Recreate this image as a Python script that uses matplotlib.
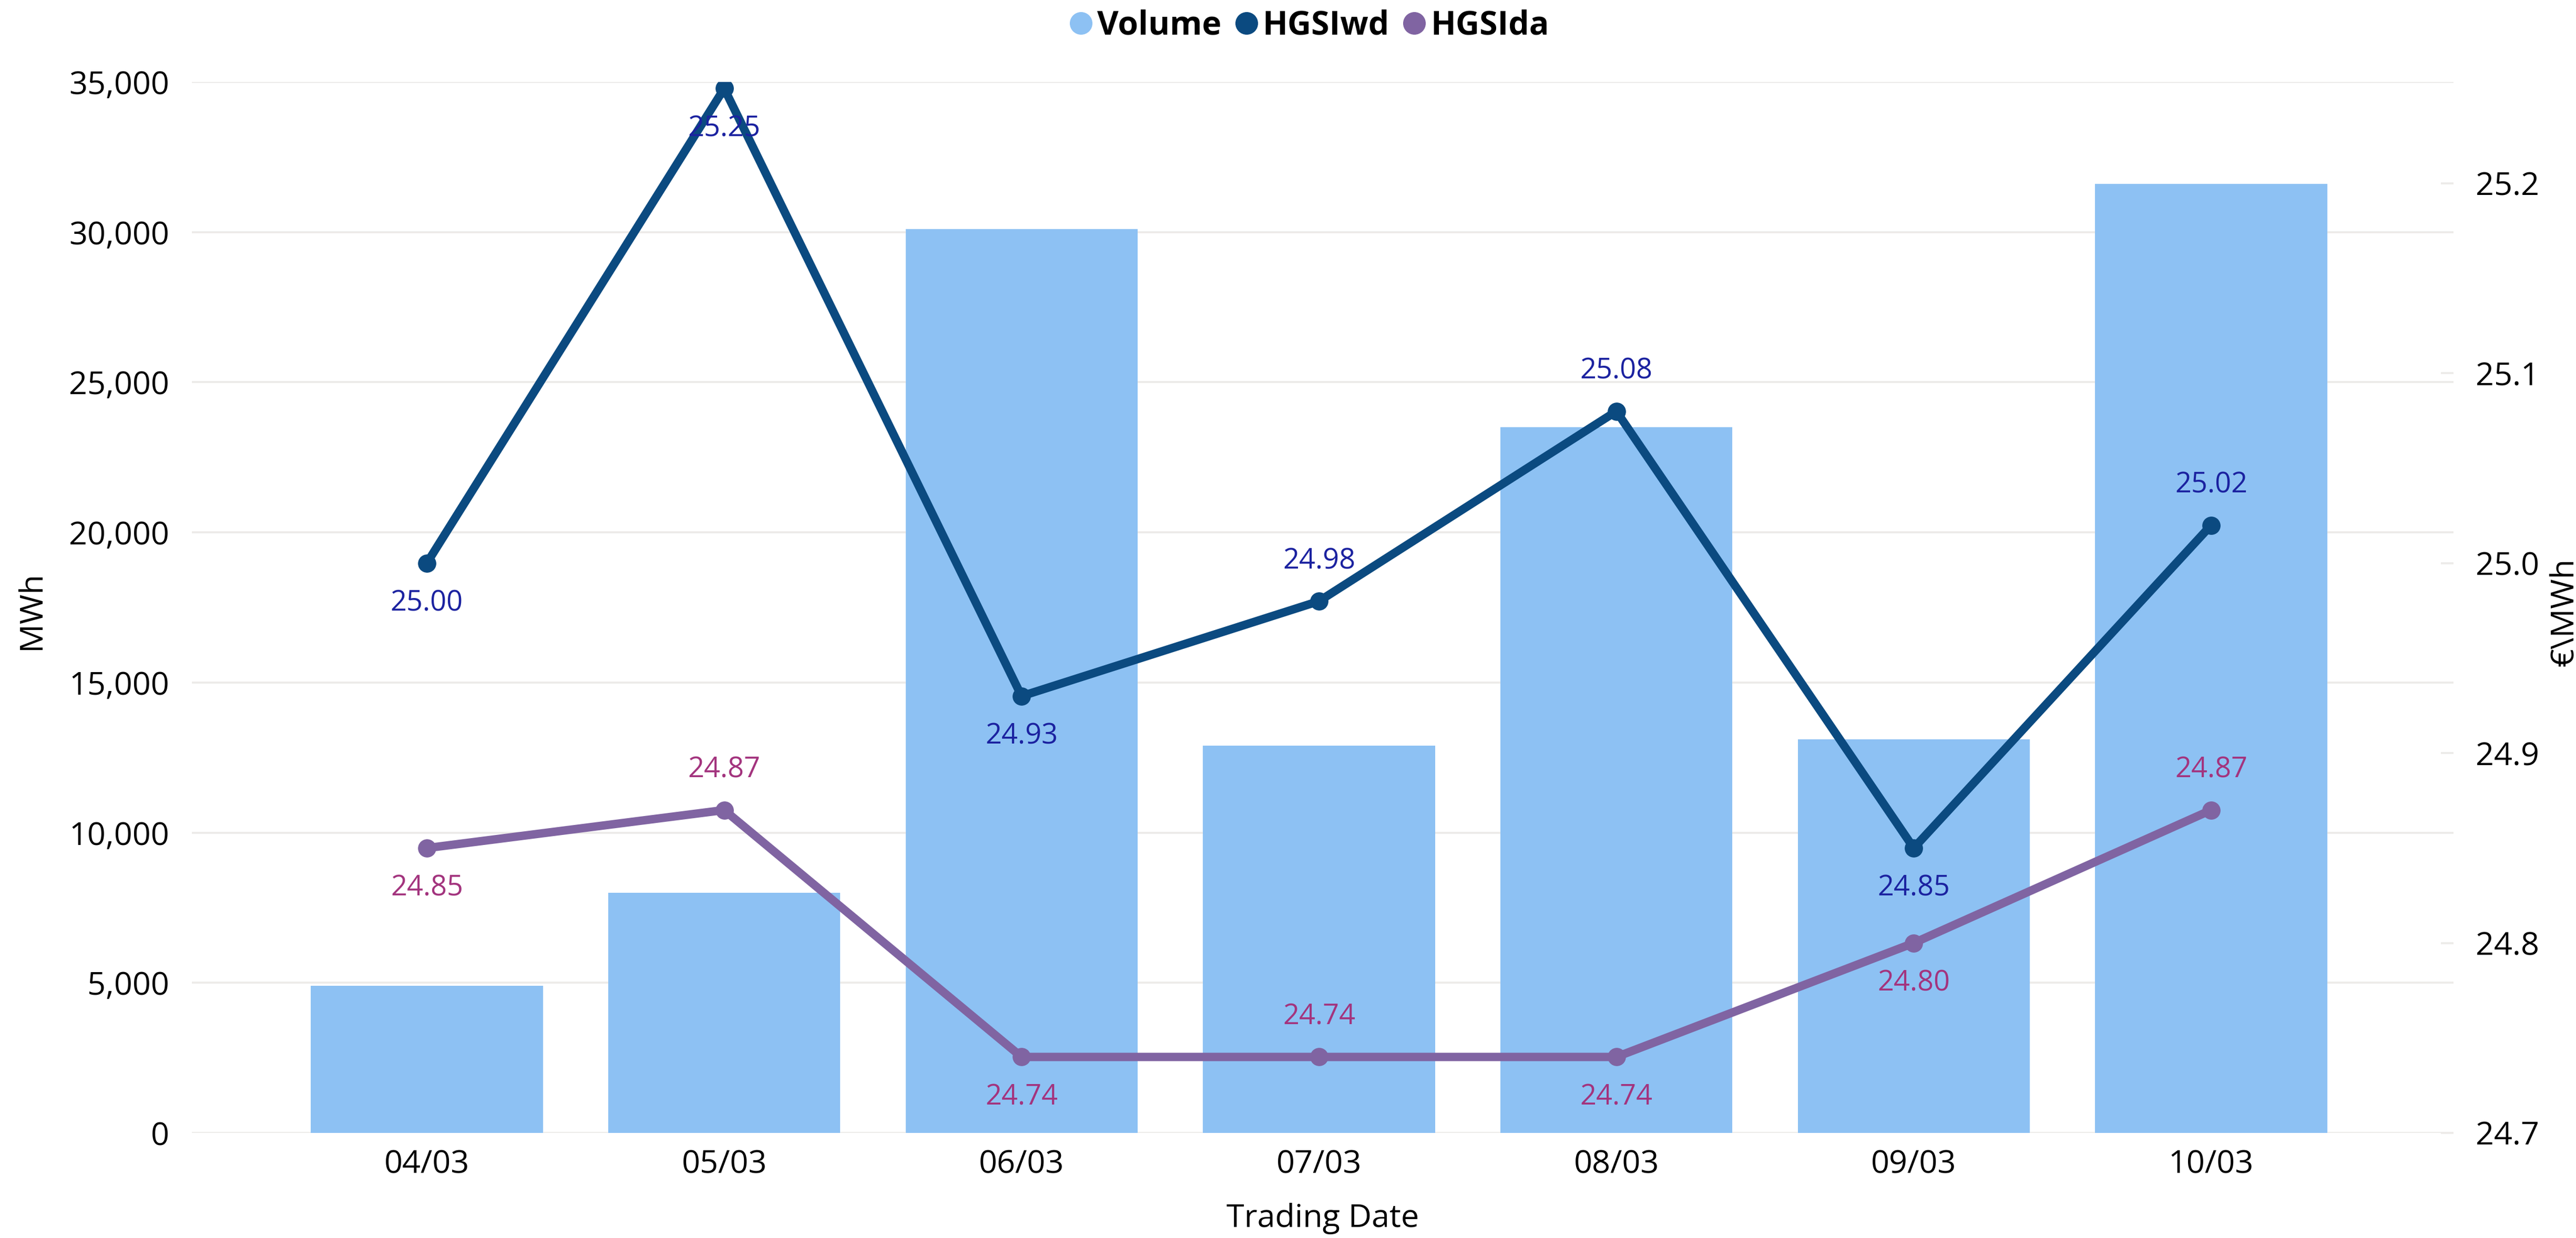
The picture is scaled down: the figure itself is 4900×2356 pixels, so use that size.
import matplotlib
matplotlib.use("Agg")
import matplotlib.pyplot as plt
from matplotlib.lines import Line2D
from matplotlib.ticker import FuncFormatter

plt.rcParams['font.family'] = ['Open Sans', 'DejaVu Sans']

# Données
dates = ["04/03", "05/03", "06/03", "07/03", "08/03", "09/03", "10/03"]
volume = [4900, 8000, 30100, 12900, 23500, 13100, 31600]
hgsiwd = [25.00, 25.25, 24.93, 24.98, 25.08, 24.85, 25.02]
hgsida = [24.85, 24.87, 24.74, 24.74, 24.74, 24.80, 24.87]
# position des étiquettes : 1 = au-dessus, -1 = en dessous
pos_wd = [-1, -1, -1, 1, 1, -1, 1]
pos_da = [-1, 1, -1, 1, -1, -1, 1]

c_bar = '#8DC1F3'
c_wd = '#0B4A80'
c_da = '#8064A2'
c_wd_lab = '#1B22A0'
c_da_lab = '#A3347E'
c_grid = '#EDEBE9'

W, H = 4900, 2356
fig = plt.figure(figsize=(W / 100, H / 100), dpi=100)
ax = fig.add_axes([365 / W, 200 / H, (4667 - 365) / W, 2000 / H])

x = list(range(len(dates)))
ax.bar(x, volume, width=0.78, color=c_bar, zorder=2)
ax.set_xlim(-0.79, 6.815)
ax.set_ylim(0, 35000)
ax.set_yticks(range(0, 35001, 5000))
ax.yaxis.set_major_formatter(FuncFormatter(lambda v, p: f"{int(v):,}"))
ax.set_xticks(x)
ax.set_xticklabels(dates)
ax.grid(axis='y', color=c_grid, lw=2.8, zorder=0)
ax.set_axisbelow(True)
for s in ax.spines.values():
    s.set_visible(False)
ax.tick_params(axis='y', length=0, labelsize=44, pad=31)
ax.tick_params(axis='x', length=0, labelsize=44, pad=22)

# Axe secondaire (prix)
ax2 = ax.twinx()
ax2.set_ylim(24.7, 25.2534)
ax2.set_yticks([24.7, 24.8, 24.9, 25.0, 25.1, 25.2])
ax2.yaxis.set_major_formatter(FuncFormatter(lambda v, p: f"{v:.1f}"))
for s in ax2.spines.values():
    s.set_visible(False)
ax2.tick_params(axis='y', direction='in', length=17, width=2.8, color=c_grid,
                labelsize=44, pad=30)

ax2.plot(x, hgsiwd, color=c_wd, lw=11.5, marker='o', ms=24, zorder=4)
ax2.plot(x, hgsida, color=c_da, lw=11.5, marker='o', ms=24, zorder=3)

for xi, v, p in zip(x, hgsiwd, pos_wd):
    ax2.annotate(f"{v:.2f}", (xi, v), xytext=(0, 55 * p), textcoords='offset points',
                 ha='center', va='center', fontsize=39, color=c_wd_lab, zorder=5)
for xi, v, p in zip(x, hgsida, pos_da):
    ax2.annotate(f"{v:.2f}", (xi, v), xytext=(0, 55 * p), textcoords='offset points',
                 ha='center', va='center', fontsize=39, color=c_da_lab, zorder=5)

# Titres des axes
fig.text(60 / W, 1 - 1161 / H, "MWh", rotation=90, ha='center', va='center', fontsize=44)
fig.text(4878 / W, 1 - 1165 / H, "€\\MWh", rotation=90, ha='center', va='center', fontsize=44)
fig.text(2516 / W, 1 - 2335 / H, "Trading Date", ha='center', va='baseline', fontsize=44)

# Légende
handles = [Line2D([], [], ls='none', marker='o', ms=30, color=c) for c in (c_bar, c_wd, c_da)]
leg = fig.legend(handles, ["Volume", "HGSIwd", "HGSIda"], loc='center',
                 bbox_to_anchor=(2492 / W, 1 - 49 / H), ncol=3, frameon=False,
                 handlelength=0.6, handletextpad=0.2, columnspacing=0.45,
                 prop={'size': 45, 'weight': 'bold'})

fig.savefig("out.png", dpi=100)
